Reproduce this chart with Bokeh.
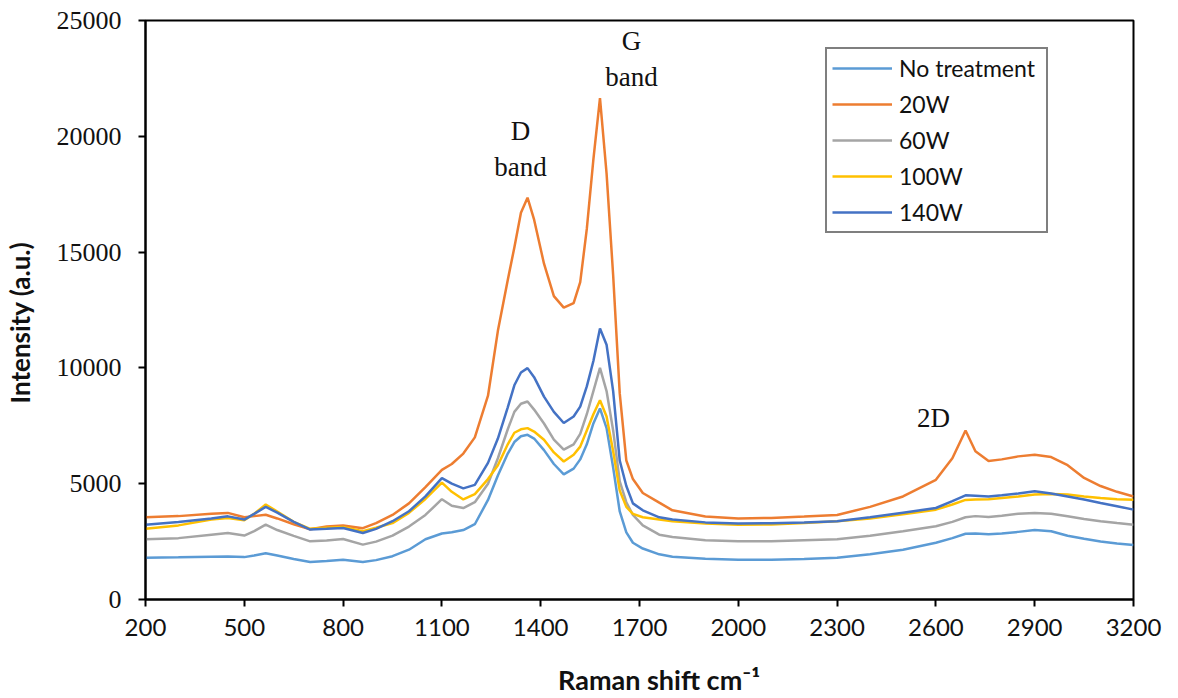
from bokeh.plotting import figure
from bokeh.models import ColumnDataSource, FixedTicker, Legend, LegendItem, Range1d
from bokeh.core.properties import value
from bokeh.embed import file_html
from bokeh.resources import INLINE

# Raman shift (cm^-1) sampling points shared by all spectra
shift = [200, 300, 400, 450, 500, 530, 565, 600, 650, 700, 750, 800, 860, 900, 950,
         1000, 1050, 1100, 1130, 1165, 1200, 1240, 1270, 1300, 1320, 1340, 1360, 1380,
         1410, 1440, 1470, 1500, 1520, 1540, 1560, 1580, 1600, 1620, 1640, 1660, 1680,
         1710, 1760, 1800, 1900, 2000, 2100, 2200, 2300, 2400, 2500, 2600, 2650, 2690,
         2720, 2760, 2800, 2850, 2900, 2950, 3000, 3050, 3100, 3150, 3200]

no_treatment = [1800, 1820, 1850, 1860, 1830, 1900, 2000, 1900, 1750, 1620, 1660, 1720, 1620, 1700, 1870,
                2150, 2600, 2850, 2900, 3000, 3250, 4300, 5350, 6300, 6800, 7050, 7110, 6950,
                6450, 5850, 5400, 5650, 6050, 6700, 7600, 8250, 7400, 5700, 3800, 2900, 2450,
                2200, 1950, 1850, 1760, 1720, 1720, 1750, 1800, 1950, 2150, 2450, 2650, 2840,
                2850, 2820, 2850, 2920, 3000, 2950, 2750, 2620, 2500, 2420, 2350]

w20 = [3550, 3600, 3700, 3740, 3550, 3600, 3660, 3500, 3250, 3030, 3150, 3200, 3080, 3300, 3650,
       4150, 4850, 5600, 5850, 6300, 7000, 8800, 11600, 13800, 15200, 16700, 17350, 16400,
       14500, 13100, 12600, 12800, 13700, 16000, 19000, 21650, 18400, 14000, 8900, 6000, 5200,
       4600, 4180, 3850, 3580, 3500, 3520, 3580, 3650, 4000, 4450, 5170, 6100, 7300,
       6400, 5980, 6050, 6180, 6250, 6150, 5800, 5250, 4900, 4650, 4450]

w60 = [2600, 2650, 2800, 2870, 2760, 2950, 3230, 3000, 2750, 2510, 2550, 2610, 2370, 2500, 2760,
       3150, 3650, 4330, 4050, 3950, 4200, 5000, 6100, 7350, 8100, 8450, 8550, 8200,
       7600, 6900, 6470, 6700, 7150, 8000, 9000, 10000, 9000, 7300, 5100, 4200, 3650,
       3200, 2800, 2700, 2560, 2510, 2520, 2560, 2600, 2750, 2950, 3160, 3350, 3550,
       3600, 3560, 3620, 3700, 3740, 3700, 3590, 3480, 3380, 3300, 3230]

w100 = [3050, 3200, 3450, 3520, 3420, 3700, 4100, 3800, 3350, 3050, 3100, 3130, 2950, 3100, 3300,
        3740, 4340, 5050, 4650, 4320, 4550, 5200, 5800, 6700, 7200, 7350, 7400, 7250,
        6900, 6350, 5960, 6250, 6600, 7300, 8000, 8600, 7900, 6400, 4700, 4000, 3700,
        3550, 3450, 3380, 3280, 3230, 3240, 3300, 3380, 3500, 3680, 3880, 4100, 4300,
        4320, 4330, 4380, 4450, 4530, 4550, 4530, 4450, 4380, 4330, 4310]

w140 = [3230, 3350, 3500, 3590, 3450, 3700, 4000, 3750, 3350, 3020, 3050, 3090, 2870, 3050, 3380,
        3810, 4450, 5240, 5000, 4800, 4950, 5900, 6950, 8300, 9250, 9800, 9990, 9600,
        8760, 8100, 7620, 7900, 8330, 9200, 10300, 11700, 11000, 9000, 6000, 4900, 4150,
        3850, 3550, 3450, 3330, 3280, 3290, 3330, 3380, 3550, 3750, 3950, 4250, 4500,
        4480, 4450, 4500, 4580, 4670, 4580, 4450, 4320, 4170, 4030, 3880]

series_names = ["No treatment", "20W", "60W", "100W", "140W"]
series_colors = ["#5B9BD5", "#ED7D31", "#A5A5A5", "#FFC000", "#4472C4"]
series_values = [no_treatment, w20, w60, w100, w140]

x_ticks = [200, 500, 800, 1100, 1400, 1700, 2000, 2300, 2600, 2900, 3200]
y_ticks = [0, 5000, 10000, 15000, 20000, 25000]

# Non-breaking spaces nudge the titles off the frame centre
x_title = "\u00A0" * 6 + "Raman shift cm\u207B\u00B9"
y_title = "Intensity (a.u.)" + "\u00A0" * 4

# Band annotations
band_text = ["D\nband", "G\nband", "2D"]
band_x = [1339, 1676, 2593]
band_y = [19460, 23320, 7840]

p = figure(width=1178, height=698, output_backend="svg", toolbar_location=None,
           x_range=Range1d(200, 3200), y_range=Range1d(0, 25000),
           min_border_left=145, min_border_right=45, min_border_top=20, min_border_bottom=98)
p.background_fill_color = "white"
p.border_fill_color = "white"
p.outline_line_color = "black"
p.outline_line_width = 2
p.grid.visible = False

renderers = []
for name, color, vals in zip(series_names, series_colors, series_values):
    src = ColumnDataSource(dict(x=shift, y=vals))
    r = p.line("x", "y", source=src, line_color=color, line_width=2.5)
    renderers.append((name, r))

p.text(x=band_x, y=band_y, text=band_text, text_font=value("Liberation Serif"),
       text_font_size="27px", text_color="#111111", text_align="center",
       text_baseline="middle", text_line_height=1.2)

# Axes
xa = p.xaxis[0]
xa.ticker = FixedTicker(ticks=x_ticks)
xa.axis_label = x_title
xa.axis_label_text_font = "Lato"
xa.axis_label_text_font_style = "bold"
xa.axis_label_text_font_size = "27px"
xa.axis_label_text_color = "#111111"
xa.axis_label_standoff = 24
xa.major_label_text_font = "Lato"
xa.major_label_text_font_size = "24px"
xa.major_label_text_color = "#111111"
xa.major_label_standoff = 12

ya = p.yaxis[0]
ya.ticker = FixedTicker(ticks=y_ticks)
ya.axis_label = y_title
ya.axis_label_text_font = "Lato"
ya.axis_label_text_font_style = "bold"
ya.axis_label_text_font_size = "26px"
ya.axis_label_text_color = "#111111"
ya.axis_label_standoff = 18
ya.major_label_text_font = "Liberation Serif"
ya.major_label_text_font_size = "26px"
ya.major_label_text_color = "#111111"
ya.major_label_standoff = 17

for ax in (xa, ya):
    ax.axis_line_color = "black"
    ax.axis_line_width = 2
    ax.major_tick_line_color = "black"
    ax.major_tick_line_width = 2
    ax.major_tick_out = 7
    ax.major_tick_in = 0
    ax.minor_tick_line_color = None

legend = Legend(items=[LegendItem(label=n, renderers=[r]) for n, r in renderers],
                location=(680, 366))
legend.label_text_font = "Lato"
legend.label_text_font_size = "23px"
legend.label_text_color = "#111111"
legend.glyph_width = 60
legend.glyph_height = 20
legend.label_height = 20
legend.label_width = 142
legend.label_standoff = 7
legend.spacing = 8
legend.padding = 5
legend.margin = 0
legend.border_line_color = "black"
legend.border_line_width = 2
legend.background_fill_color = "white"
legend.background_fill_alpha = 1
p.add_layout(legend)

open("out.html", "w").write(file_html(p, INLINE))
